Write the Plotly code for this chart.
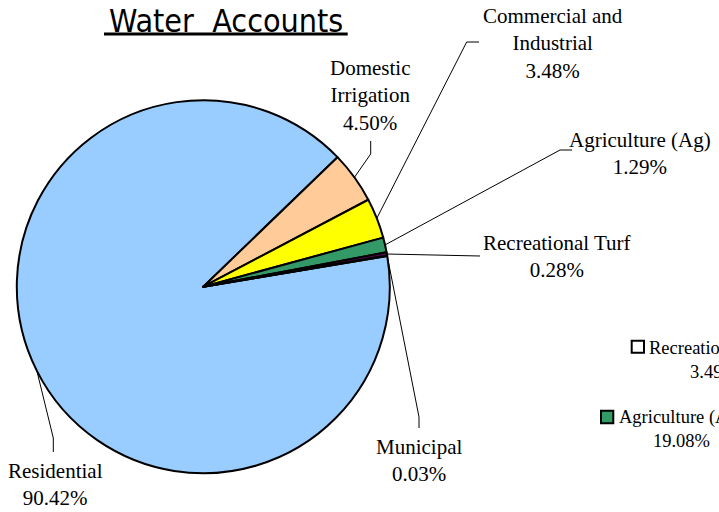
import math
import plotly.graph_objects as go

W, H = 719, 512

# Water account shares (%)
categories = ["Residential", "Domestic Irrigation", "Commercial and Industrial",
              "Agriculture (Ag)", "Recreational Turf", "Municipal"]
label_names = ["Residential", "Domestic<br>Irrigation", "Commercial and<br>Industrial",
               "Agriculture (Ag)", "Recreational Turf", "Municipal"]
shares = [90.42, 4.50, 3.48, 1.29, 0.28, 0.03]
colors = ["#99CCFF", "#FFCC99", "#FFFF00", "#339966", "#660066", "#FF99CC"]

# labels of the neighbouring chart, running off the right edge
side_names = ["Recreational Turf", "Agriculture (Ag)"]
side_shares = [3.49, 19.08]
side_colors = ["#FFFFFF", "#339966"]

# pie geometry (pixels)
CX, CY, R = 203.3, 286.7, 186.5
ROTATION = 80.5

# label centres and leader-line elbows/ends (pixels)
label_pos = {
    "Residential": (55, 484),
    "Domestic Irrigation": (370, 95),
    "Commercial and Industrial": (552.7, 43.5),
    "Agriculture (Ag)": (640, 153),
    "Recreational Turf": (556.7, 256.5),
    "Municipal": (419, 460),
}
leader = {
    "Residential": [(53.3, 438), (53.3, 452)],
    "Domestic Irrigation": [(370.7, 154), (370.7, 141)],
    "Commercial and Industrial": [(466.7, 42), (479, 42)],
    "Agriculture (Ag)": [(560, 150), (572, 150)],
    "Recreational Turf": [(480, 256)],
    "Municipal": [(419, 417), (419, 428)],
}

fig = go.Figure()

fig.add_trace(go.Pie(
    labels=categories,
    values=shares,
    sort=False,
    direction="clockwise",
    rotation=ROTATION,
    marker=dict(colors=colors, line=dict(color="black", width=2)),
    textinfo="none",
    hoverinfo="skip",
    showlegend=False,
    domain=dict(x=[(CX - R) / W, (CX + R) / W],
                y=[(H - CY - R) / H, (H - CY + R) / H]),
))

# invisible pixel-space axes for annotations and leader lines
fig.add_trace(go.Scatter(x=[0, W], y=[0, H], mode="markers",
                         marker=dict(opacity=0), hoverinfo="skip", showlegend=False))

shapes = []
annotations = []
total = sum(shares)
cum = 0.0
for name, lab, v in zip(categories, label_names, shares):
    mid = math.radians(ROTATION + 360.0 * (cum + v / 2.0) / total)
    cum += v
    sx, sy = CX + R * math.sin(mid), CY - R * math.cos(mid)
    pts = [(sx, sy)] + leader[name]
    path = "M " + " L ".join(f"{x:.1f} {y:.1f}" for x, y in pts)
    shapes.append(dict(type="path", xref="x", yref="y", path=path,
                       line=dict(color="black", width=1), layer="above"))
    lx, ly = label_pos[name]
    annotations.append(dict(
        x=lx, y=ly, xref="x", yref="y", xanchor="center", yanchor="middle",
        text=f"{lab}<br>{v:.2f}%", showarrow=False, align="center",
        font=dict(family="Liberation Serif", size=21, color="black"),
    ))

# side labels with legend keys
side_key = [(631.7, 340.7, 644, 352.7), (601, 410.7, 613.3, 423.3)]
side_text_pos = [(714.5, 359.5), (681.7, 429.4)]
for name, v, col, key, (tx, ty) in zip(side_names, side_shares, side_colors, side_key, side_text_pos):
    x0, y0, x1, y1 = key
    shapes.append(dict(type="rect", xref="x", yref="y", x0=x0, y0=y0, x1=x1, y1=y1,
                       fillcolor=col, line=dict(color="black", width=2), layer="above"))
    annotations.append(dict(x=tx, y=ty, xref="x", yref="y", xanchor="center",
                            yanchor="middle", align="center",
                            text=f"{name}<br>{v:.2f}%", showarrow=False,
                            font=dict(family="Liberation Serif", size=18.5, color="black")))

# title with underline
annotations.append(dict(
    x=225.8, y=0, xref="x", yref="y", xanchor="center", yanchor="top",
    text="Water\u00a0\u00a0Accounts", showarrow=False,
    font=dict(family="DejaVu Sans Condensed, DejaVu Sans", size=32, color="black"),
))
shapes.append(dict(type="line", xref="x", yref="y", x0=104, y0=34, x1=347.7, y1=34,
                   line=dict(color="black", width=3), layer="above"))

fig.update_layout(
    width=W, height=H,
    margin=dict(l=0, r=0, t=0, b=0),
    paper_bgcolor="white", plot_bgcolor="rgba(0,0,0,0)",
    xaxis=dict(range=[0, W], visible=False, fixedrange=True),
    yaxis=dict(range=[H, 0], visible=False, fixedrange=True),
    shapes=shapes,
    annotations=annotations,
)

fig.write_html("out.html")
